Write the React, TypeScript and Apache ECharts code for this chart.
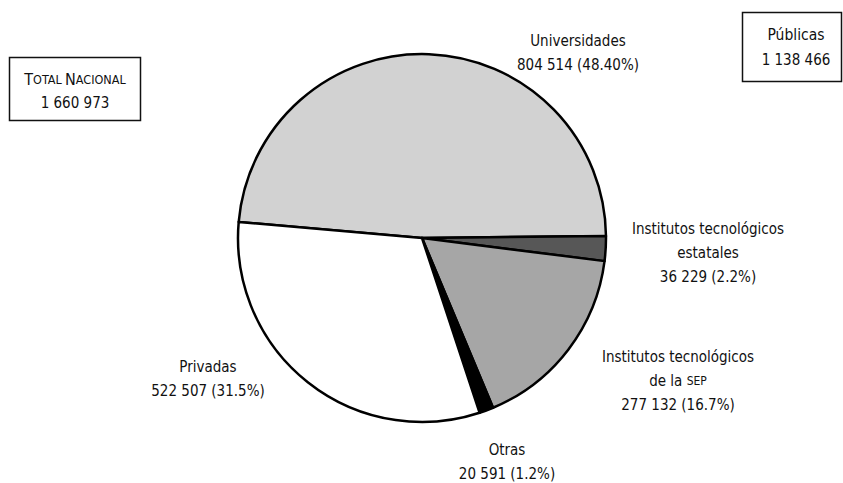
import React, { useEffect, useRef } from "react";
import * as echarts from "echarts";

const categories = [
  "Universidades",
  "Institutos tecnológicos\nestatales",
  "Institutos tecnológicos\nde la {sc|SEP}",
  "Otras",
  "Privadas",
];
const values = [804514, 36229, 277132, 20591, 522507];
const percentLabels = ["48.40%", "2.2%", "16.7%", "1.2%", "31.5%"];
const sliceColors = ["#d2d2d2", "#575757", "#a6a6a6", "#000000", "#ffffff"];
const totalLabel = "1 660 973";
const publicLabel = "1 138 466";

// label block centres (layout only)
const labelCenters = [
  [578, 53],
  [708, 253],
  [678, 381],
  [507, 462],
  [208, 379],
];

const FONT = '"DejaVu Sans Condensed", "Liberation Sans Narrow", "Roboto", sans-serif';

function fmt(n: number): string {
  return String(n).replace(/\B(?=(\d{3})+(?!\d))/g, " ");
}

export default function App() {
  const ref = useRef<HTMLDivElement>(null);
  useEffect(() => {
    if (!ref.current) return;
    const chart = echarts.init(ref.current, null, { renderer: "svg" });
    chart.setOption({
      animation: false,
      backgroundColor: "#ffffff",
      textStyle: { fontFamily: FONT },
      series: [
        {
          type: "pie",
          center: [422, 238],
          radius: 184,
          startAngle: 175,
          clockwise: true,
          avoidLabelOverlap: false,
          silent: true,
          data: values.map((v, i) => ({
            value: v,
            name: categories[i],
            itemStyle: { color: sliceColors[i] },
          })),
          itemStyle: { borderColor: "#000", borderWidth: 2.5 },
          label: {
            show: true,
            position: "outside",
            fontFamily: FONT,
            fontSize: 15,
            lineHeight: 24,
            color: "#111",
            align: "center",
            formatter: (p: any) =>
              `${categories[p.dataIndex]}\n${fmt(values[p.dataIndex])} (${percentLabels[p.dataIndex]})`,
            rich: {
              sc: { fontFamily: FONT, fontSize: 12, lineHeight: 24, color: "#111" },
            },
          },
          labelLine: { show: false },
          labelLayout: (params: any) => {
            const c = labelCenters[params.dataIndex];
            return { x: c[0], y: c[1], align: "center", verticalAlign: "middle" };
          },
        },
      ],
      graphic: [
        {
          type: "rect",
          shape: { x: 9.5, y: 57.5, width: 131, height: 63 },
          style: { fill: "#fff", stroke: "#111", lineWidth: 1.5 },
        },
        {
          type: "text",
          x: 75,
          y: 79,
          style: {
            text: "{b|T}{s|OTAL} {b|N}{s|ACIONAL}",
            align: "center",
            verticalAlign: "middle",
            rich: {
              b: { fontFamily: FONT, fontSize: 16, fill: "#111" },
              s: { fontFamily: FONT, fontSize: 12.5, fill: "#111" },
            },
          },
        },
        {
          type: "text",
          x: 75,
          y: 103,
          style: {
            text: totalLabel,
            fontFamily: FONT,
            fontSize: 15,
            fill: "#111",
            align: "center",
            verticalAlign: "middle",
          },
        },
        {
          type: "rect",
          shape: { x: 742.5, y: 12.5, width: 99, height: 69 },
          style: { fill: "#fff", stroke: "#111", lineWidth: 1.5 },
        },
        {
          type: "text",
          x: 796,
          y: 35,
          style: {
            text: "Públicas",
            fontFamily: FONT,
            fontSize: 15.5,
            fill: "#111",
            align: "center",
            verticalAlign: "middle",
          },
        },
        {
          type: "text",
          x: 796,
          y: 60,
          style: {
            text: publicLabel,
            fontFamily: FONT,
            fontSize: 15,
            fill: "#111",
            align: "center",
            verticalAlign: "middle",
          },
        },
      ],
    });
    return () => chart.dispose();
  }, []);
  return (
    <div
      ref={ref}
      style={{ position: "absolute", left: 0, top: 0, width: 843, height: 483 }}
    />
  );
}
